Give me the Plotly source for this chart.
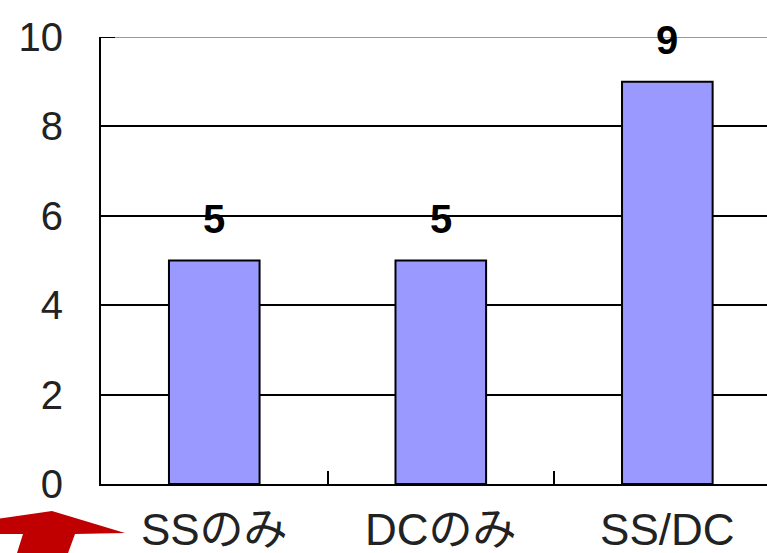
import plotly.graph_objects as go

categories = ["SSのみ", "DCのみ", "SS/DC"]
counts = [5, 5, 9]
y_ticks = [0, 2, 4, 6, 8, 10]
y_tick_labels = ["0", "2", "4", "6", "8", "10"]

FONT = "Liberation Sans, Arial, Noto Sans CJK JP, sans-serif"

W, H = 767, 553
M_L, M_R, M_T, M_B = 101, 0, 37, 69
PLOT_W = W - M_L - M_R
PLOT_H = H - M_T - M_B

fig = go.Figure()
fig.add_trace(go.Bar(
    x=categories,
    y=counts,
    width=0.4,
    marker=dict(color="#9999FF", line=dict(color="#000000", width=2)),
    hoverinfo="skip",
))

# value labels above each bar
for c, v in zip(categories, counts):
    fig.add_annotation(
        x=c, y=v, text=f"<b>{v}</b>", showarrow=False,
        yanchor="bottom", yshift=18,
        font=dict(family=FONT, size=40, color="#000000"),
    )

# lighter line along the top of the plot area
fig.add_shape(type="line", xref="paper", yref="y", x0=0, x1=1, y0=10, y1=10,
              line=dict(color="#9a9a9a", width=2), layer="above")
fig.add_shape(type="line", xref="paper", yref="y", x0=0, x1=14 / PLOT_W, y0=10, y1=10,
              line=dict(color="#000000", width=2), layer="above")


def to_paper(x, y):
    """Page pixel position -> paper coordinates of the plot area."""
    return (x - M_L) / PLOT_W, (H - M_B - y) / PLOT_H


# red arrow in the lower-left corner
arrow_px = [(52, 511), (125, 533), (75, 534), (68, 553), (17, 553),
            (23, 534), (-10, 534), (-10, 520)]
path = "M " + " L ".join("{:.4f},{:.4f}".format(*to_paper(x, y)) for x, y in arrow_px) + " Z"
fig.add_shape(type="path", xref="paper", yref="paper", path=path,
              fillcolor="#C00000", line=dict(width=0), layer="above")

fig.update_layout(
    width=W, height=H,
    margin=dict(l=M_L, r=M_R, t=M_T, b=M_B),
    paper_bgcolor="#ffffff", plot_bgcolor="#ffffff",
    showlegend=False,
    font=dict(family=FONT, color="#000000"),
)
fig.update_xaxes(
    range=[-0.5, 2.44],
    showline=True, linecolor="#000000", linewidth=2,
    ticks="inside", tickson="boundaries", ticklen=13, tickwidth=2, tickcolor="#000000",
    tickfont=dict(family="Liberation Sans, Noto Sans CJK JP, sans-serif", size=44, color="#222222"),
    ticklabelstandoff=6,
    showgrid=False, zeroline=False, fixedrange=True,
)
fig.update_yaxes(
    range=[0, 10],
    tickvals=y_ticks, ticktext=y_tick_labels,
    showline=True, linecolor="#000000", linewidth=2,
    ticks="inside", ticklen=14, tickwidth=2, tickcolor="#000000",
    tickfont=dict(family=FONT, size=40, color="#222222"),
    ticklabelstandoff=28,
    showgrid=True, gridcolor="#000000", gridwidth=2,
    zeroline=False, fixedrange=True,
)

fig.write_html("out.html", config={"displayModeBar": False})
